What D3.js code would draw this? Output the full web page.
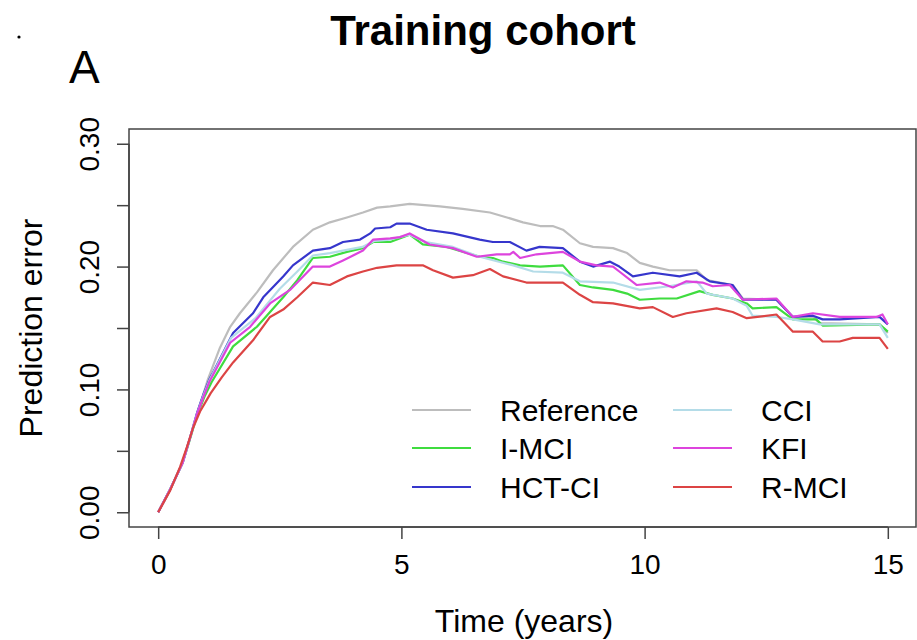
<!DOCTYPE html>
<html>
<head>
<meta charset="utf-8">
<script src="https://cdn.jsdelivr.net/npm/d3@7"></script>
<style>
  body { margin: 0; background: #fff; }
  svg text { font-family: "Liberation Sans", Arial, sans-serif; fill: #000; }
</style>
</head>
<body>
<script>
// series: [time in years, prediction error]
var reference = [[0,0],[0.25,0.019],[0.5,0.040],[0.65,0.060],[0.8,0.081],[0.92,0.095],[1.02,0.108],[1.27,0.134],[1.48,0.151],[1.68,0.162],[2.03,0.179],[2.36,0.197],[2.77,0.216],[3.18,0.230],[3.53,0.236],[3.88,0.240],[4.21,0.244],[4.5,0.248],[4.77,0.249],[5.17,0.251],[5.79,0.249],[6.26,0.247],[6.82,0.244],[7.17,0.240],[7.5,0.236],[7.85,0.233],[8.11,0.233],[8.32,0.230],[8.67,0.219],[8.94,0.216],[9.35,0.215],[9.64,0.211],[9.9,0.203],[10.17,0.200],[10.51,0.197],[11.07,0.197],[11.28,0.189],[11.81,0.185],[12.02,0.174],[12.71,0.173],[13.05,0.159],[13.46,0.159],[13.6,0.154],[14.83,0.153],[15.0,0.146]];
var iMci = [[0,0],[0.25,0.019],[0.5,0.040],[0.65,0.059],[0.8,0.079],[0.95,0.094],[1.1,0.106],[1.54,0.135],[2.03,0.151],[2.57,0.175],[2.86,0.189],[3.18,0.207],[3.53,0.208],[3.88,0.212],[4.21,0.215],[4.42,0.220],[4.77,0.220],[5.17,0.226],[5.44,0.218],[5.93,0.216],[6.61,0.208],[6.88,0.207],[7.09,0.204],[7.44,0.201],[7.85,0.200],[8.32,0.201],[8.67,0.185],[8.94,0.183],[9.35,0.181],[9.64,0.178],[9.9,0.173],[10.31,0.174],[10.66,0.174],[11.13,0.180],[11.4,0.177],[11.81,0.174],[12.1,0.170],[12.22,0.166],[12.71,0.167],[13.05,0.157],[13.53,0.157],[13.66,0.152],[14.83,0.153],[15.0,0.147]];
var hctCi = [[0,0],[0.25,0.019],[0.5,0.040],[0.65,0.060],[0.8,0.081],[0.93,0.096],[1.05,0.108],[1.13,0.114],[1.54,0.146],[1.95,0.162],[2.16,0.175],[2.57,0.192],[2.77,0.201],[3.18,0.213],[3.53,0.215],[3.8,0.220],[4.15,0.222],[4.36,0.227],[4.46,0.231],[4.77,0.232],[4.9,0.235],[5.17,0.235],[5.52,0.230],[6.06,0.227],[6.61,0.222],[6.88,0.220],[7.23,0.220],[7.57,0.213],[7.84,0.216],[8.32,0.215],[8.67,0.204],[8.94,0.200],[9.29,0.204],[9.48,0.200],[9.76,0.192],[10.17,0.195],[10.72,0.192],[11.07,0.195],[11.34,0.188],[11.81,0.185],[12.02,0.173],[12.71,0.173],[13.05,0.159],[13.46,0.160],[13.66,0.157],[14.01,0.157],[14.83,0.159],[15.0,0.153]];
var cci = [[0,0],[0.25,0.019],[0.5,0.040],[0.65,0.060],[0.8,0.080],[0.93,0.095],[1.05,0.107],[1.5,0.142],[2.0,0.158],[2.5,0.182],[2.86,0.196],[3.18,0.209],[3.53,0.211],[4.2,0.216],[4.45,0.221],[4.77,0.222],[5.17,0.226],[5.5,0.220],[6.06,0.216],[6.61,0.208],[7.3,0.201],[7.71,0.196],[8.32,0.195],[8.67,0.188],[9.35,0.187],[9.9,0.181],[10.5,0.184],[11.07,0.188],[11.28,0.178],[11.81,0.174],[12.1,0.168],[12.22,0.160],[12.71,0.159],[13.05,0.157],[13.6,0.153],[14.83,0.153],[15.0,0.142]];
var kfi = [[0,0],[0.25,0.019],[0.5,0.040],[0.65,0.060],[0.8,0.080],[0.93,0.094],[1.05,0.106],[1.48,0.138],[1.89,0.151],[2.3,0.170],[2.71,0.181],[3.18,0.200],[3.53,0.200],[3.8,0.205],[4.21,0.213],[4.42,0.222],[4.77,0.223],[4.97,0.224],[5.17,0.227],[5.58,0.218],[6.06,0.215],[6.55,0.208],[6.96,0.210],[7.23,0.210],[7.3,0.212],[7.44,0.207],[7.78,0.210],[8.32,0.212],[8.67,0.204],[9.01,0.201],[9.35,0.200],[9.48,0.196],[9.84,0.185],[10.31,0.187],[10.58,0.183],[10.86,0.188],[11.19,0.187],[11.4,0.184],[11.75,0.185],[12.02,0.173],[12.71,0.174],[13.05,0.159],[13.46,0.162],[14.01,0.159],[14.77,0.159],[14.89,0.161],[15.0,0.153]];
var rMci = [[0,0],[0.25,0.018],[0.45,0.037],[0.59,0.053],[0.72,0.069],[0.86,0.082],[1.08,0.097],[1.31,0.110],[1.54,0.122],[1.95,0.140],[2.3,0.159],[2.57,0.165],[2.86,0.175],[3.18,0.187],[3.53,0.185],[3.88,0.192],[4.21,0.196],[4.5,0.199],[4.9,0.201],[5.44,0.201],[5.65,0.197],[6.06,0.191],[6.47,0.193],[6.82,0.198],[7.09,0.192],[7.57,0.187],[8.32,0.187],[8.67,0.177],[8.94,0.171],[9.35,0.170],[9.9,0.166],[10.17,0.167],[10.58,0.159],[10.86,0.162],[11.48,0.166],[11.81,0.163],[12.1,0.158],[12.71,0.161],[13.05,0.147],[13.46,0.147],[13.66,0.139],[14.01,0.139],[14.28,0.142],[14.83,0.142],[15.0,0.133]];

var seriesNames = ["Reference", "I-MCI", "HCT-CI", "CCI", "KFI", "R-MCI"];
var seriesData = [reference, iMci, hctCi, cci, kfi, rMci];
var seriesColors = ["#bdbdbd", "#3fdc3f", "#3636cc", "#b4dce8", "#dd44dd", "#dc4444"];

var xTicks = [0, 5, 10, 15];
var yTicks = [0, 0.05, 0.10, 0.15, 0.20, 0.25, 0.30];
var yLabelled = [0, 0.10, 0.20, 0.30];

var W = 917, H = 640;
// plot box (R style, 4% padding around data range)
var box = {left: 129, right: 917, top: 129, bottom: 527};

var x = d3.scaleLinear().domain([-0.6, 15.6]).range([box.left, box.right]);
var y = d3.scaleLinear().domain([-0.012, 0.312]).range([box.bottom, box.top]);

var svg = d3.select("body").append("svg")
    .attr("width", W)
    .attr("height", H);

svg.append("rect").attr("width", W).attr("height", H).attr("fill", "#fff");

// small stray dot top left
svg.append("circle").attr("cx", 19).attr("cy", 37).attr("r", 1.6).attr("fill", "#000");

// panel letter and title
svg.append("text")
    .attr("x", 69).attr("y", 83)
    .style("font-size", "46px")
    .text("A");

svg.append("text")
    .attr("x", 483).attr("y", 45)
    .attr("text-anchor", "middle")
    .style("font-size", "42px")
    .style("font-weight", "bold")
    .text("Training cohort");

// lines
var line = d3.line()
    .x(function(d) { return x(d[0]); })
    .y(function(d) { return y(d[1]); });

svg.append("g").attr("class", "lines")
  .selectAll("path")
  .data(seriesData)
  .join("path")
    .attr("d", line)
    .attr("fill", "none")
    .attr("stroke", function(d, i) { return seriesColors[i]; })
    .attr("stroke-width", 2.2)
    .attr("stroke-linejoin", "round");

// box
svg.append("rect")
    .attr("x", box.left).attr("y", box.top)
    .attr("width", box.right - box.left - 1)
    .attr("height", box.bottom - box.top)
    .attr("fill", "none")
    .attr("stroke", "#444")
    .attr("stroke-width", 1.5);

// x axis
var xAxis = svg.append("g")
    .attr("transform", "translate(0," + box.bottom + ")")
    .call(d3.axisBottom(x).tickValues(xTicks).tickSize(12).tickSizeOuter(0).tickPadding(15)
        .tickFormat(d3.format("d")));
xAxis.select(".domain").attr("d", "M" + x(0) + ",0H" + x(15)).attr("stroke", "#444").attr("stroke-width", 1.5);
xAxis.selectAll(".tick line").attr("stroke", "#444").attr("stroke-width", 1.5);
xAxis.selectAll(".tick text")
    .style("font-size", "28px")
    .style("font-family", "'Liberation Sans', Arial, sans-serif")
    .attr("fill", "#000");

// y axis, labels rotated like R's default
var yAxis = svg.append("g")
    .attr("transform", "translate(" + box.left + ",0)")
    .call(d3.axisLeft(y).tickValues(yTicks).tickSize(12).tickSizeOuter(0)
        .tickFormat(function(d) {
          return yLabelled.some(function(v) { return Math.abs(v - d) < 1e-9; }) ? d3.format(".2f")(d) : "";
        }));
yAxis.select(".domain").attr("d", "M0," + y(0) + "V" + y(0.3)).attr("stroke", "#444").attr("stroke-width", 1.5);
yAxis.selectAll(".tick line").attr("stroke", "#444").attr("stroke-width", 1.5);
yAxis.selectAll(".tick text")
    .attr("transform", "rotate(-90)")
    .attr("x", 0)
    .attr("y", -30)
    .attr("dy", null)
    .attr("text-anchor", "middle")
    .style("font-size", "28px")
    .style("font-family", "'Liberation Sans', Arial, sans-serif")
    .attr("fill", "#000");

// axis titles
svg.append("text")
    .attr("x", 524).attr("y", 632)
    .attr("text-anchor", "middle")
    .style("font-size", "32px")
    .text("Time (years)");

svg.append("text")
    .attr("transform", "translate(42," + ((box.top + box.bottom) / 2) + ") rotate(-90)")
    .attr("text-anchor", "middle")
    .style("font-size", "32px")
    .text("Prediction error");

// legend, 2 columns filled column-wise
var legCols = [412, 673];
var legRows = [410, 448, 487];
var leg = svg.append("g").attr("class", "legend")
  .selectAll("g")
  .data(seriesNames)
  .join("g")
    .attr("transform", function(d, i) {
      return "translate(" + legCols[Math.floor(i / 3)] + "," + legRows[i % 3] + ")";
    });
leg.append("line")
    .attr("x1", 0).attr("x2", 59)
    .attr("stroke", function(d, i) { return seriesColors[i]; })
    .attr("stroke-width", 2.2);
leg.append("text")
    .attr("x", 88)
    .attr("y", 11)
    .style("font-size", "30px")
    .text(function(d) { return d; });
</script>
</body>
</html>
